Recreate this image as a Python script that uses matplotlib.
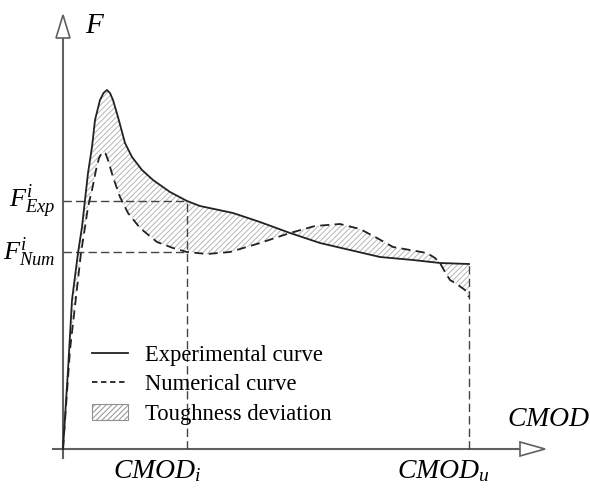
import numpy as np
import matplotlib
matplotlib.use('Agg')
import matplotlib.pyplot as plt
from matplotlib.patches import Polygon, Patch
from matplotlib.lines import Line2D

plt.rcParams['font.family'] = ['Liberation Serif', 'DejaVu Serif']
plt.rcParams['mathtext.fontset'] = 'custom'
plt.rcParams['mathtext.rm'] = 'Liberation Serif'
plt.rcParams['mathtext.it'] = 'Liberation Serif:italic'
plt.rcParams['hatch.linewidth'] = 0.7

# schematic curves (CMOD, F) in arbitrary units, origin at the axes crossing
exp_cmod = [0, 5, 9, 15, 19, 22, 25, 29, 32, 37, 40.5, 44, 47, 50, 55, 62, 69, 79, 90, 107, 124, 137,
            170, 197, 227, 257, 287, 317, 350, 377, 406]
exp_f = [0, 79, 149, 196, 222, 249, 276, 302, 329, 349, 356, 359, 356, 349, 332, 306, 292, 279, 269, 257,
         248, 243, 236, 227, 216, 206, 199, 192, 189, 186, 185]

num_cmod = [0, 7, 18, 22, 25, 29, 33, 36, 38.5, 40, 42.5, 45, 50, 57, 65, 77, 94, 110, 124, 144, 167,
            197, 227, 252, 277, 297, 314, 330, 347, 364, 372, 377, 382, 387, 395, 402, 406]
num_f = [0, 99, 196, 222, 242, 259, 279, 291, 295.5, 297, 295.5, 289, 272, 252, 236, 221, 207, 201, 197,
         195, 197, 206, 216, 223, 225, 220, 211, 202, 199, 196, 191, 186, 177, 169, 164, 159, 152]

cmod_i = 124
cmod_u = 406
f_exp_i = 248
f_num_i = 197

fig = plt.figure(figsize=(5.9, 4.88), dpi=100)
ax = fig.add_axes([0, 0, 1, 1])
ax.set_xlim(-63, 527)
ax.set_ylim(-39, 449)
ax.axis('off')

axis_col = '#606060'
# coordinate axes with open arrow heads
ax.plot([-10, 457], [0, 0], color=axis_col, lw=1.5, zorder=2)
ax.plot([0, 0], [-9, 411], color=axis_col, lw=1.5, zorder=2)
ax.add_patch(Polygon([[457, -7], [457, 7], [482, 0]], closed=True, facecolor='white',
                     edgecolor=axis_col, lw=1.2, zorder=3))
ax.add_patch(Polygon([[-7, 411], [7, 411], [0, 434]], closed=True, facecolor='white',
                     edgecolor=axis_col, lw=1.2, zorder=3))

# toughness deviation area between the two curves
poly = list(zip(exp_cmod, exp_f)) + list(zip(num_cmod[::-1], num_f[::-1]))
ax.add_patch(Polygon(poly, closed=True, facecolor='none', edgecolor='#b5b5b5', lw=0,
                     hatch='//////', zorder=1))

ax.plot(exp_cmod, exp_f, color='#222222', lw=1.3, zorder=4, solid_joinstyle='round')
ax.plot(num_cmod, num_f, color='#222222', lw=1.3, ls=(0, (5, 3)), zorder=4)

# guide lines
gcol = '#444444'
gls = (0, (6, 3))
ax.plot([0, cmod_i], [f_exp_i, f_exp_i], color=gcol, lw=1.0, ls=gls, zorder=2)
ax.plot([0, cmod_i], [f_num_i, f_num_i], color=gcol, lw=1.0, ls=gls, zorder=2)
ax.plot([cmod_i, cmod_i], [0, f_exp_i], color=gcol, lw=1.0, ls=gls, zorder=2)
ax.plot([cmod_u, cmod_u], [0, exp_f[-1]], color=gcol, lw=1.0, ls=gls, zorder=2)

# labels
ax.text(22, 423, '$F$', fontsize=21, ha='left', va='center')
ax.text(-8, f_exp_i, r'$F_{Exp}^{i}$', fontsize=19, ha='right', va='center')
ax.text(-8, f_num_i, r'$F_{Num}^{i}$', fontsize=19, ha='right', va='center')
ax.text(527, 29, '$CMOD$', fontsize=20, ha='right', va='center')
ax.text(cmod_i - 74, -22, '$CMOD_i$', fontsize=20, ha='left', va='center')
ax.text(cmod_u - 72, -22, '$CMOD_u$', fontsize=20, ha='left', va='center')

handles = [Line2D([], [], color='#222222', lw=1.3),
           Line2D([], [], color='#222222', lw=1.3, ls=(0, (3, 2))),
           Patch(facecolor='none', edgecolor='#909090', hatch='//////', lw=0.8)]
labels = ['Experimental curve', 'Numerical curve', 'Toughness deviation']
ax.legend(handles, labels, loc='upper left', bbox_to_anchor=(0.156, 0.294), frameon=False,
          fontsize=16.3, handlelength=1.6, handletextpad=0.75, labelspacing=0.385,
          borderaxespad=0, borderpad=0)

fig.savefig('out.png', dpi=100)
